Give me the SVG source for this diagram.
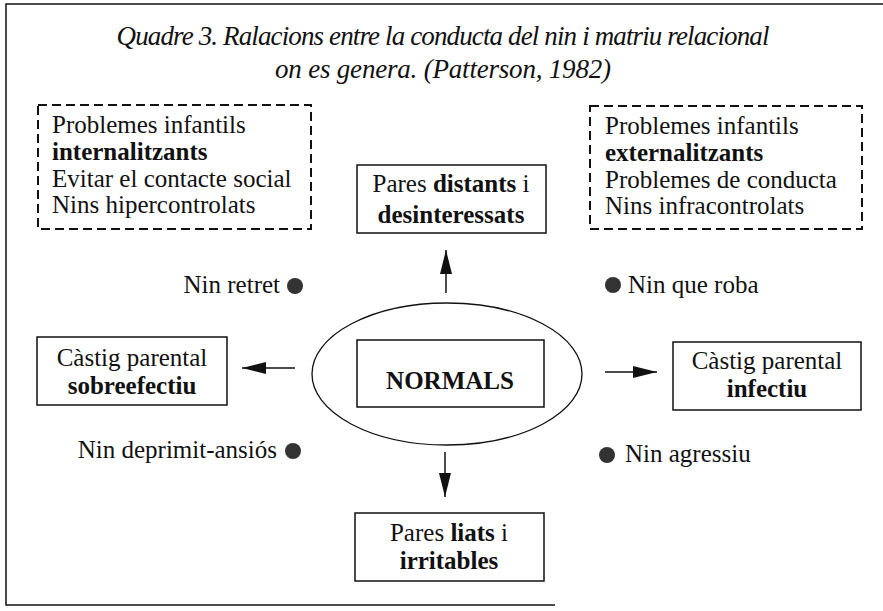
<svg xmlns="http://www.w3.org/2000/svg" width="883" height="611" viewBox="0 0 883 611">
<style>
text{font-family:"Liberation Serif","Times New Roman",serif;font-size:25px;fill:#111}
.t{font-family:"Liberation Serif","DejaVu Serif",serif;font-style:italic;font-size:27px}
.b{font-weight:bold}
.box{fill:#fff;stroke:#111;stroke-width:1.5}
.dash{fill:none;stroke:#111;stroke-width:2;stroke-dasharray:9 5}
.con{stroke:#111;stroke-width:1.5;fill:none}
.dot{fill:#333}
.frame{stroke:#111;stroke-width:1.5;fill:none}
</style>
<defs>
<marker id="ah" viewBox="0 0 24 12" markerWidth="24" markerHeight="12" refX="24" refY="6" orient="auto" markerUnits="userSpaceOnUse">
<path d="M0,0 L24,6 L0,12 z" fill="#111"/>
</marker>
</defs>
<rect width="883" height="611" fill="#fff"/>
<path class="frame" d="M883,4 L6,4 L6,605 L555,605"/>
<g id="title">
<text class="t" x="443" y="45" text-anchor="middle" textLength="653" lengthAdjust="spacing">Quadre 3. Ralacions entre la conducta del nin i matriu relacional</text>
<text class="t" x="443" y="78" text-anchor="middle" textLength="336" lengthAdjust="spacing">on es genera. (Patterson, 1982)</text>
</g>
<g id="internal">
<rect class="dash" x="38" y="105" width="273" height="124"/>
<text x="52" y="133">Problemes infantils</text>
<text x="52" y="160" class="b">internalitzants</text>
<text x="52" y="187">Evitar el contacte social</text>
<text x="52" y="213">Nins hipercontrolats</text>
</g>
<g id="external">
<rect class="dash" x="590" y="106" width="272" height="123"/>
<text x="605" y="134">Problemes infantils</text>
<text x="605" y="161" class="b">externalitzants</text>
<text x="605" y="188">Problemes de conducta</text>
<text x="605" y="214">Nins infracontrolats</text>
</g>
<g id="distants">
<rect class="box" x="357" y="165" width="189" height="68"/>
<text x="451" y="192" text-anchor="middle">Pares <tspan class="b">distants</tspan> i</text>
<text x="451" y="223" text-anchor="middle" class="b">desinteressats</text>
</g>
<g id="normals">
<ellipse cx="447" cy="374" rx="135" ry="71" fill="none" stroke="#111" stroke-width="1.3"/>
<rect class="box" x="357" y="340" width="187" height="67"/>
<text x="450" y="389" text-anchor="middle" class="b">NORMALS</text>
</g>
<g id="sobreefectiu">
<rect class="box" x="37" y="337" width="190" height="68"/>
<text x="132" y="366" text-anchor="middle">Càstig parental</text>
<text x="132" y="394" text-anchor="middle" class="b">sobreefectiu</text>
</g>
<g id="infectiu">
<rect class="box" x="673" y="342" width="188" height="68"/>
<text x="767" y="369" text-anchor="middle">Càstig parental</text>
<text x="767" y="397" text-anchor="middle" class="b">infectiu</text>
</g>
<g id="liats">
<rect class="box" x="355" y="513" width="189" height="68"/>
<text x="449" y="541" text-anchor="middle">Pares <tspan class="b">liats</tspan> i</text>
<text x="449" y="569" text-anchor="middle" class="b">irritables</text>
</g>
<g id="retret">
<text x="280" y="293" text-anchor="end">Nin retret</text>
<circle class="dot" cx="295" cy="286" r="8"/>
</g>
<g id="roba">
<circle class="dot" cx="613" cy="285" r="8"/>
<text x="628" y="293">Nin que roba</text>
</g>
<g id="deprimit">
<text x="277" y="458" text-anchor="end">Nin deprimit-ansiós</text>
<circle class="dot" cx="293" cy="451" r="8"/>
</g>
<g id="agressiu">
<circle class="dot" cx="607" cy="455" r="8"/>
<text x="625" y="462">Nin agressiu</text>
</g>
<g id="connectors">
<line class="con" x1="446" y1="293" x2="446" y2="250" marker-end="url(#ah)"/>
<line class="con" x1="445" y1="452" x2="445" y2="497" marker-end="url(#ah)"/>
<line class="con" x1="295" y1="368" x2="242" y2="368" marker-end="url(#ah)"/>
<line class="con" x1="605" y1="372" x2="657" y2="372" marker-end="url(#ah)"/>
</g>
</svg>
